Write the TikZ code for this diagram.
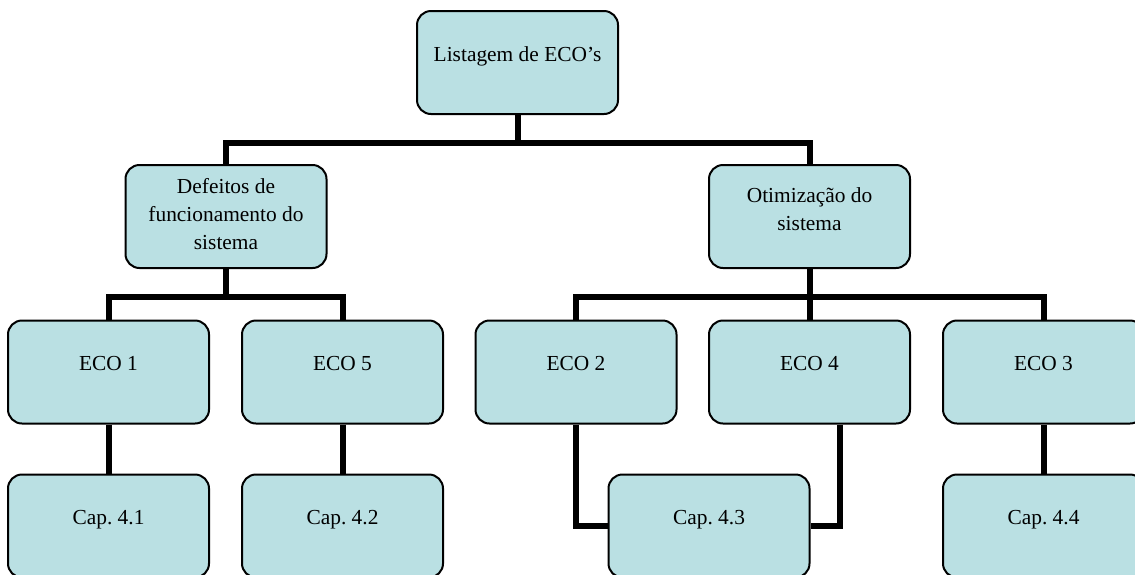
\documentclass[tikz,border=0pt]{standalone}
\usepackage{fontspec}
\setmainfont{Liberation Serif}
\frenchspacing
\definecolor{boxfill}{RGB}{186,224,227}

\begin{document}
\begin{tikzpicture}[x=.5pt,y=-.5pt,
  box/.style={draw,line width=1pt,rounded corners=7pt,fill=boxfill,minimum width=100.5pt,minimum height=51.5pt,
    inner sep=0pt,align=center,font=\fontsize{10.7}{14}\selectfont,text height=7.2pt,text depth=8.4pt},
  conn/.style={line width=3pt}]
\clip (0,0) rectangle (1135,574);
% levels
\node[box] (top) at (517.5,62.5){Listagem de ECO’s};
\node[box,text height=35.2pt,text depth=2.7pt] (defeitos) at (226,216.5){Defeitos de\\funcionamento do\\sistema};
\node[box,text height=21.2pt,text depth=7.7pt] (otimiz) at (809.5,216.5){Otimização do\\sistema};
\node[box] (eco1) at (108.5,372){ECO 1};\node[box] (eco5) at (342.5,372){ECO 5};
\node[box] (eco2) at (576,372){ECO 2};\node[box] (eco4) at (809.5,372){ECO 4};
\node[box] (eco3) at (1043.5,372){ECO 3};
\node[box] (cap1) at (108.5,526){Cap. 4.1};\node[box] (cap2) at (342.5,526){Cap. 4.2};
\node[box] (cap3) at (709,526){Cap. 4.3};\node[box] (cap4) at (1043.5,526){Cap. 4.4};
% connectors
\draw[conn] (top.south) -- ([yshift=-14pt]top.south);
\draw[conn] (defeitos.north) |- ([yshift=-14pt]top.south) -| (otimiz.north);
\draw[conn] (defeitos.south) -- ([yshift=-14pt]defeitos.south);
\draw[conn] (eco1.north) |- ([yshift=-14pt]defeitos.south) -| (eco5.north);
\draw[conn] (otimiz.south) -- (eco4.north);
\draw[conn] (eco2.north) |- ([yshift=-14pt]otimiz.south) -| (eco3.north);
\draw[conn] (eco1) -- (cap1);\draw[conn] (eco5) -- (cap2);\draw[conn] (eco3) -- (cap4);
\draw[conn] (eco2.south) |- (cap3.west);
\draw[conn] ([xshift=15pt]eco4.south) |- (cap3.east);
\end{tikzpicture}
\end{document}
